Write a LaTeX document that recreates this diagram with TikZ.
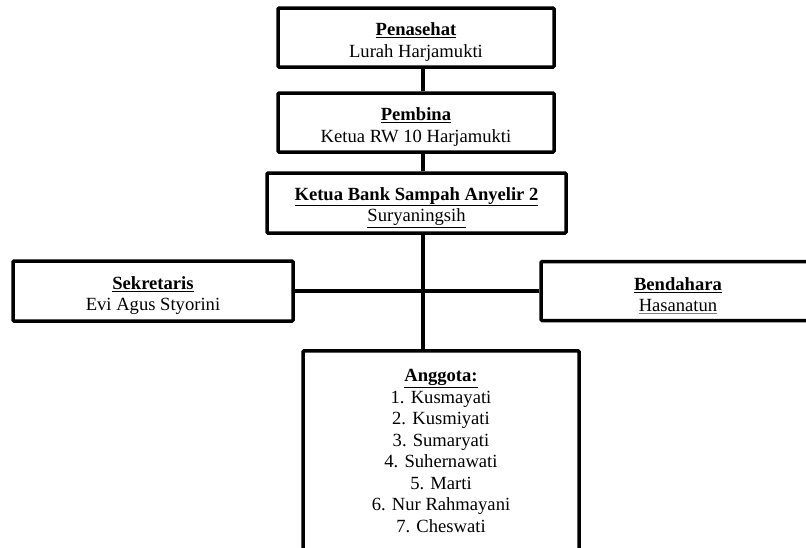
\documentclass[tikz,border=0pt]{standalone}
\usepackage{fontspec}
\setmainfont{Liberation Serif}
\usetikzlibrary{calc,positioning}
\newcommand{\grayul}[1]{{\color{gray}\underline{\color{black}#1}}}
\newcommand{\jabatan}[1]{\rule{0pt}{22pt}\textbf{\underline{#1}}}

\begin{document}
\begin{tikzpicture}[x=1pt,y=-1pt,
  box/.style={draw,line width=3.5pt,rounded corners=1pt,fill=white,inner sep=0pt,
    align=center,font=\fontsize{18.6pt}{21.5pt}\selectfont},
  link/.style={line width=3.5pt}]
\useasboundingbox (0,0) rectangle (806,547);
\clip (0,0) rectangle (806,547);
\coordinate (spine) at (423,0);
% boxes
\node[box,minimum width=276pt,minimum height=59pt] (pen) at (416,37.5) {\jabatan{Penasehat}\\Lurah Harjamukti};
\node[box,minimum width=276pt,minimum height=59pt] (pem) at (416,122.5) {\jabatan{Pembina}\\Ketua RW 10 Harjamukti};
\node[box,minimum width=299pt,minimum height=60pt] (ketua) at (416.5,203) {\jabatan{Ketua Bank Sampah Anyelir 2}\\\underline{Suryaningsih}};
\node[box,minimum width=280pt,minimum height=60pt] (sek) at (153,291) {\jabatan{Sekretaris}\\Evi Agus Styorini};
\node[box,minimum width=274pt,minimum height=59pt] (ben) at (678,291) {\jabatan{Bendahara}\\\grayul{Hasanatun}};
\node[box,anchor=north,minimum width=276pt,minimum height=200pt] (ang) at (441,349) {\textbf{\underline{Anggota:}}\\1. Kusmayati\\2. Kusmiyati\\3. Sumaryati\\4. Suhernawati\\5. Marti\\6. Nur Rahmayani\\7. Cheswati};
% connectors
\draw[link] (pen.south -| spine) -- (pem.north -| spine);
\draw[link] (pem.south -| spine) -- (ketua.north -| spine);
\draw[link] (ketua.south -| spine) -- (ang.north -| spine);
\draw[link] (sek.east) -- (ben.west);
\end{tikzpicture}
\end{document}
